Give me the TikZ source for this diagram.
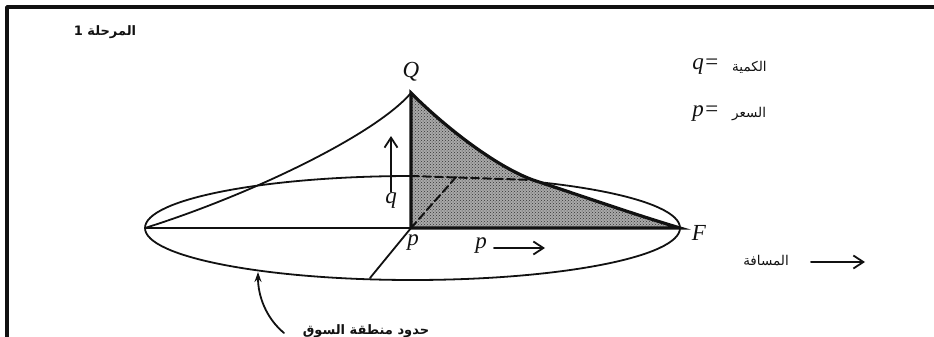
\documentclass[tikz,border=0pt]{standalone}
\usepackage{fontspec}
\setmainfont{Liberation Serif}
\newfontfamily\arabicfont[Script=Arabic]{DejaVu Sans}
\TeXXeTstate=1
\usetikzlibrary{arrows.meta,patterns,positioning}
\definecolor{InkBlack}{HTML}{111111}
\definecolor{ShadeGray}{HTML}{A9A9A9}

\tikzset{
  axislbl/.style={font=\fontsize{23}{25}\selectfont\itshape, inner sep=1pt},
  arlbl/.style={font=\arabicfont\fontsize{13.5}{15}\selectfont, inner sep=1pt},
  arbold/.style={font=\arabicfont\bfseries\fontsize{13}{15}\selectfont, inner sep=1pt},
  openarrow/.style={-{Straight Barb[length=10pt,width=13pt,line width=1.8pt]}, line width=1.8pt},
  thinline/.style={line width=1.8pt},
  thickline/.style={line width=3.2pt},
  hidden/.style={line width=2pt, dash pattern=on 8pt off 4pt}
}

\begin{document}
\begin{tikzpicture}[
  x=1pt, y=-1pt,
  line cap=round, line join=round,
  >=Stealth, InkBlack
]

\useasboundingbox (0,0) rectangle (934,337);

% Frame
\draw[line width=3.8pt, line cap=butt] (7,337) -- (7,7) -- (934,7);

% === Cone points ===
\coordinate (Q) at (411,93);
\coordinate (P) at (411,228);
\coordinate (L) at (145,228);
\coordinate (F) at (680,228);
\coordinate (M) at (533,180);
\coordinate (B) at (411,176);
\coordinate (D) at (457,176);
\coordinate (E) at (370,278);

% Market area boundary (ellipse)
\draw[thinline] (412.5,228) ellipse [x radius=267.5pt, y radius=52pt];

% Shaded section under the right curve
\fill[ShadeGray] (Q) .. controls (445,127) and (495,166) .. (M)
  .. controls (585,197) and (630,213) .. (F) -- (P) -- cycle;
\fill[pattern=crosshatch dots, pattern color=black!80]
  (Q) .. controls (445,127) and (495,166) .. (M)
  .. controls (585,197) and (630,213) .. (F) -- (P) -- cycle;

% Hidden edges
\draw[hidden] (B) -- (M);
\draw[hidden] (P) -- (D);

% Left side of the cone and the axis
\draw[thinline] (L) .. controls (250,195) and (375,135) .. (Q);
\draw[thinline] (L) -- (P);
\draw[thinline] (P) -- (E);

% Thick outline of the section
\draw[thickline, line join=miter] (P) -- (Q)
  .. controls (445,127) and (495,166) .. (M)
  .. controls (585,197) and (630,213) .. (F) -- cycle;

% === Labels on the cone ===
\node[axislbl] (Qlbl) at (411,72) {Q};
\node[axislbl] (Flbl) at (699,233) {F};
\node[axislbl] (plbl) at (413,243) {p};
\node[axislbl] (qlbl) at (391,201) {q};
\node[axislbl] (pdir) at (481,246) {p};

\coordinate (qtip) at (391,136);
\draw[openarrow] (qlbl.north) -- (qtip);
\coordinate (ptip) at (545,248);
\draw[openarrow] ([xshift=6pt,yshift=-2pt]pdir.east) -- (ptip);

% === Legend ===
\node[axislbl] (qeq) at (706,67) {q=};
\node[arlbl, anchor=west] (qword) at (731,67) {\beginR الكمية\endR};
\node[axislbl] (peq) at (706,114) {p=};
\node[arlbl, anchor=west] (pword) at (731,114) {\beginR السعر\endR};

\node[arlbl] (dist) at (766,261) {\beginR المسافة\endR};
\coordinate (dtip) at (865,262);
\draw[openarrow] ([xshift=21pt,yshift=-1pt]dist.east) -- (dtip);

\node[arbold] (stage) at (105,32) {\beginR المرحلة 1\endR};

% Boundary label (cut by the page edge)
\node[arbold] (bound) at (366,331) {\beginR حدود منطقة السوق\endR};
\coordinate (btail) at (284,333);
\coordinate (btip) at (258,272);
\draw[-{Stealth[length=10pt,width=7pt]}, line width=1.8pt]
  (btail) .. controls (266,318) and (258,296) .. (btip);

\end{tikzpicture}
\end{document}
